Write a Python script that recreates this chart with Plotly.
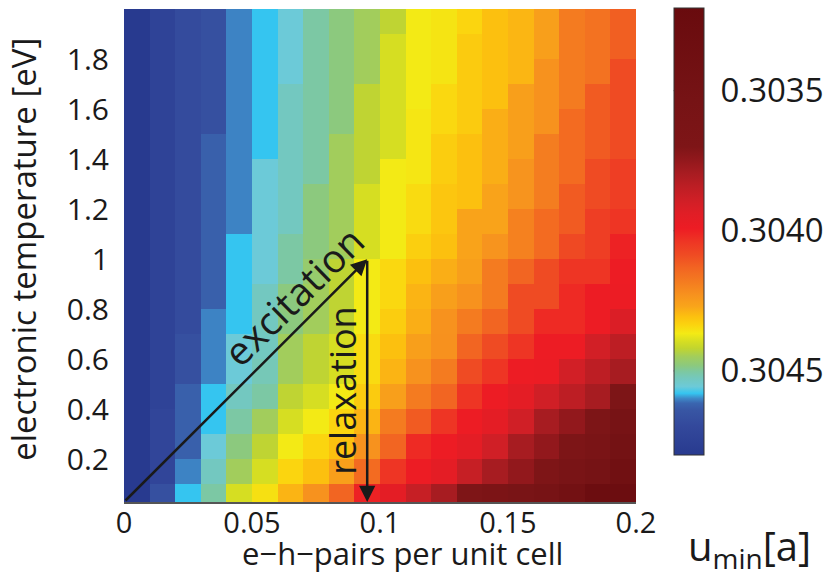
import plotly.graph_objects as go

# ---- data ----
pairs_per_cell = [0.005, 0.015, 0.025, 0.035, 0.045, 0.055, 0.065, 0.075, 0.085, 0.095,
                  0.105, 0.115, 0.125, 0.135, 0.145, 0.155, 0.165, 0.175, 0.185, 0.195]
# electronic temperature rows, listed from the top row (1.95 eV) down to the bottom row (0.05 eV)
temperature_ev = [1.95, 1.85, 1.75, 1.65, 1.55, 1.45, 1.35, 1.25, 1.15, 1.05,
                  0.95, 0.85, 0.75, 0.65, 0.55, 0.45, 0.35, 0.25, 0.15, 0.05]
u_min = [
    [0.304800, 0.304736, 0.304688, 0.304664, 0.304601, 0.304580, 0.304556, 0.304505, 0.304481, 0.304449, 0.304422, 0.304366, 0.304358, 0.304337, 0.304306, 0.304293, 0.304258, 0.304181, 0.304162, 0.304122],
    [0.304800, 0.304736, 0.304688, 0.304664, 0.304601, 0.304580, 0.304556, 0.304505, 0.304481, 0.304449, 0.304395, 0.304366, 0.304358, 0.304322, 0.304306, 0.304293, 0.304258, 0.304181, 0.304162, 0.304122],
    [0.304800, 0.304736, 0.304688, 0.304664, 0.304601, 0.304580, 0.304556, 0.304505, 0.304481, 0.304449, 0.304395, 0.304366, 0.304358, 0.304322, 0.304306, 0.304293, 0.304229, 0.304181, 0.304162, 0.304085],
    [0.304800, 0.304736, 0.304688, 0.304664, 0.304601, 0.304580, 0.304529, 0.304505, 0.304481, 0.304422, 0.304395, 0.304366, 0.304341, 0.304322, 0.304306, 0.304258, 0.304229, 0.304181, 0.304114, 0.304085],
    [0.304800, 0.304736, 0.304688, 0.304664, 0.304601, 0.304580, 0.304529, 0.304505, 0.304481, 0.304422, 0.304395, 0.304360, 0.304341, 0.304322, 0.304282, 0.304258, 0.304229, 0.304146, 0.304114, 0.304085],
    [0.304800, 0.304736, 0.304688, 0.304625, 0.304601, 0.304580, 0.304529, 0.304505, 0.304449, 0.304422, 0.304395, 0.304360, 0.304325, 0.304306, 0.304282, 0.304258, 0.304186, 0.304146, 0.304114, 0.304085],
    [0.304800, 0.304736, 0.304688, 0.304625, 0.304601, 0.304556, 0.304529, 0.304505, 0.304449, 0.304422, 0.304366, 0.304360, 0.304325, 0.304306, 0.304282, 0.304234, 0.304186, 0.304146, 0.304085, 0.304058],
    [0.304800, 0.304736, 0.304688, 0.304625, 0.304601, 0.304556, 0.304529, 0.304481, 0.304449, 0.304395, 0.304366, 0.304345, 0.304314, 0.304306, 0.304266, 0.304234, 0.304186, 0.304114, 0.304085, 0.304058],
    [0.304800, 0.304736, 0.304688, 0.304625, 0.304601, 0.304556, 0.304529, 0.304481, 0.304449, 0.304395, 0.304366, 0.304345, 0.304314, 0.304266, 0.304266, 0.304194, 0.304146, 0.304114, 0.304058, 0.304038],
    [0.304800, 0.304736, 0.304688, 0.304625, 0.304580, 0.304556, 0.304505, 0.304481, 0.304449, 0.304395, 0.304366, 0.304329, 0.304306, 0.304266, 0.304234, 0.304194, 0.304146, 0.304082, 0.304058, 0.304003],
    [0.304800, 0.304736, 0.304688, 0.304625, 0.304580, 0.304556, 0.304505, 0.304465, 0.304422, 0.304366, 0.304341, 0.304306, 0.304282, 0.304258, 0.304181, 0.304133, 0.304085, 0.304038, 0.304038, 0.303991],
    [0.304800, 0.304736, 0.304688, 0.304625, 0.304580, 0.304529, 0.304481, 0.304449, 0.304422, 0.304366, 0.304341, 0.304290, 0.304258, 0.304229, 0.304181, 0.304085, 0.304085, 0.304018, 0.303991, 0.303987],
    [0.304800, 0.304736, 0.304688, 0.304601, 0.304580, 0.304529, 0.304481, 0.304449, 0.304422, 0.304366, 0.304326, 0.304282, 0.304229, 0.304181, 0.304133, 0.304085, 0.304018, 0.304018, 0.303991, 0.303923],
    [0.304800, 0.304736, 0.304664, 0.304601, 0.304556, 0.304529, 0.304449, 0.304422, 0.304395, 0.304345, 0.304306, 0.304258, 0.304226, 0.304133, 0.304085, 0.304038, 0.303991, 0.303991, 0.303899, 0.303843],
    [0.304800, 0.304736, 0.304664, 0.304601, 0.304556, 0.304521, 0.304449, 0.304422, 0.304395, 0.304345, 0.304290, 0.304229, 0.304181, 0.304085, 0.304038, 0.303991, 0.303987, 0.303899, 0.303843, 0.303794],
    [0.304800, 0.304736, 0.304625, 0.304580, 0.304529, 0.304505, 0.304422, 0.304395, 0.304366, 0.304322, 0.304258, 0.304181, 0.304133, 0.304038, 0.303991, 0.303955, 0.303891, 0.303843, 0.303794, 0.303684],
    [0.304800, 0.304720, 0.304625, 0.304580, 0.304505, 0.304449, 0.304395, 0.304366, 0.304337, 0.304290, 0.304181, 0.304114, 0.304038, 0.303991, 0.303955, 0.303891, 0.303794, 0.303747, 0.303684, 0.303556],
    [0.304800, 0.304720, 0.304625, 0.304556, 0.304481, 0.304422, 0.304366, 0.304337, 0.304306, 0.304229, 0.304133, 0.304018, 0.303991, 0.303955, 0.303891, 0.303794, 0.303747, 0.303684, 0.303620, 0.303492],
    [0.304800, 0.304720, 0.304601, 0.304529, 0.304449, 0.304395, 0.304337, 0.304306, 0.304258, 0.304146, 0.304038, 0.303991, 0.303955, 0.303867, 0.303794, 0.303747, 0.303699, 0.303588, 0.303524, 0.303396],
    [0.304800, 0.304664, 0.304580, 0.304505, 0.304395, 0.304353, 0.304290, 0.304229, 0.304133, 0.304003, 0.303955, 0.303867, 0.303794, 0.303699, 0.303652, 0.303604, 0.303556, 0.303444, 0.303285, 0.303285],
]
x_tick_vals = [0, 0.05, 0.1, 0.15, 0.2]
x_tick_text = ["0", "0.05", "0.1", "0.15", "0.2"]
y_tick_vals = [0.2, 0.4, 0.6, 0.8, 1.0, 1.2, 1.4, 1.6, 1.8]
y_tick_text = ["0.2", "0.4", "0.6", "0.8", "1", "1.2", "1.4", "1.6", "1.8"]
cb_tick_vals = [0.3035, 0.3040, 0.3045]
cb_tick_text = ["0.3035", "0.3040", "0.3045"]
u_top, u_bottom = 0.303205, 0.304800   # colour bar limits (top / bottom)

# arrows: excitation (0 -> 0.095 pairs, up to 1 eV), relaxation (back down at 0.095)
exc_start = (0.0, 0.029)
exc_end = (0.095, 1.0)
rel_end = (0.095, 0.029)

# ---- style ----
colorscale = [
    [0.000, "#283a8f"], [0.063, "#33489b"], [0.100, "#3856a4"], [0.116, "#3a66b0"],
    [0.127, "#3e8bc9"], [0.138, "#35c5f0"], [0.153, "#6ccad8"], [0.172, "#74c8bd"],
    [0.187, "#7dc8a0"], [0.200, "#8cc97e"], [0.220, "#a2cd5c"], [0.239, "#c2d52e"],
    [0.254, "#d6de22"], [0.272, "#f3ea15"], [0.291, "#fbd40f"], [0.310, "#fcc00f"],
    [0.332, "#f9a51a"], [0.358, "#f7921e"], [0.388, "#f47b20"], [0.418, "#f26522"],
    [0.448, "#ef4b23"], [0.478, "#ee3524"], [0.507, "#ed1c24"], [0.541, "#e01e26"],
    [0.571, "#cf1f26"], [0.600, "#bd1e24"], [0.631, "#a71c21"], [0.660, "#92181c"],
    [0.690, "#7e1517"], [0.795, "#761315"], [1.000, "#690b0e"],
]
FONT = "Open Sans"
TXT = "#1a1a1a"

W, H = 832, 577
L, R, T, B = 124, 192, 8, 75
pw, ph = W - L - R, H - T - B
CB_LEFT, CB_W, CB_TOP, CB_BOT = 678, 30, 8, 455


def px(xp):
    return (xp - L) / pw


def py(yp):
    return (H - B - yp) / ph


# plotly colour bars always rise upward; the reference has low u at the top,
# so the heat map is drawn with -u and the colour-bar ticks relabelled.
z_neg = [[-v for v in row] for row in u_min]

fig = go.Figure(go.Heatmap(
    x=pairs_per_cell, y=temperature_ev, z=z_neg,
    zmin=-u_bottom, zmax=-u_top,
    colorscale=colorscale,
    customdata=u_min,
    hovertemplate="%{x}, %{y} eV: %{customdata}<extra></extra>",
    colorbar=dict(
        x=px(CB_LEFT), xanchor="left", xpad=0,
        y=1.0, yanchor="top", ypad=0,
        len=(CB_BOT - CB_TOP) / ph, lenmode="fraction",
        thickness=CB_W, outlinecolor="#333", outlinewidth=1,
        tickvals=[-v for v in cb_tick_vals], ticktext=cb_tick_text,
        ticks="outside", ticklen=10, tickcolor="rgba(0,0,0,0)",
        tickfont=dict(family=FONT, size=33, color=TXT),
    ),
))

fig.update_xaxes(
    range=[0, 0.2], tickvals=x_tick_vals, ticktext=x_tick_text,
    ticks="", showgrid=False, zeroline=False,
    showline=True, linecolor="#555", linewidth=2,
    tickfont=dict(family=FONT, size=29, color=TXT),
    ticklabelstandoff=-6,
)
fig.update_yaxes(
    range=[0.029, 2.004], tickvals=y_tick_vals, ticktext=y_tick_text,
    ticks="", showgrid=False, zeroline=False, showline=False,
    tickfont=dict(family=FONT, size=30, color=TXT),
    ticklabelstandoff=14,
)

# small inside tick marks on both edges of the colour bar
shapes = []
for v in cb_tick_vals:
    yp = CB_TOP + (v - u_top) / (u_bottom - u_top) * (CB_BOT - CB_TOP)
    for x0, x1 in ((CB_LEFT, CB_LEFT + 5), (CB_LEFT + CB_W - 5, CB_LEFT + CB_W)):
        shapes.append(dict(type="line", xref="paper", yref="paper",
                           x0=px(x0), x1=px(x1), y0=py(yp), y1=py(yp),
                           line=dict(color="#333", width=1)))

ann = [
    # axis titles
    dict(text="e\u2212h\u2212pairs per unit cell", x=px(405), y=py(553), xref="paper", yref="paper",
         xanchor="center", yanchor="middle",
         showarrow=False, font=dict(family=FONT, size=31, color=TXT)),
    dict(text="electronic temperature [eV]", x=px(22), y=py(249), xref="paper", yref="paper",
         xanchor="center", yanchor="middle",
         textangle=-90, showarrow=False, font=dict(family=FONT, size=33, color=TXT)),
    dict(text="u<sub>min</sub>[a]", x=px(754), y=py(547), xref="paper", yref="paper",
         xanchor="center", yanchor="middle",
         showarrow=False, font=dict(family=FONT, size=40, color=TXT)),
    # arrows
    dict(x=exc_end[0], y=exc_end[1], ax=exc_start[0], ay=exc_start[1],
         xref="x", yref="y", axref="x", ayref="y", text="", showarrow=True,
         arrowhead=2, arrowsize=1.3, arrowwidth=2.5, arrowcolor="#1a1a1a"),
    dict(x=rel_end[0], y=rel_end[1], ax=exc_end[0], ay=exc_end[1],
         xref="x", yref="y", axref="x", ayref="y", text="", showarrow=True,
         arrowhead=2, arrowsize=1.3, arrowwidth=2.5, arrowcolor="#1a1a1a"),
    # arrow labels
    dict(text="excitation", x=0.066, y=0.855, xref="x", yref="y", textangle=-44.6,
         xanchor="center", yanchor="middle",
         showarrow=False, font=dict(family=FONT, size=39, color=TXT)),
    dict(text="relaxation", x=0.0855, y=0.477, xref="x", yref="y", textangle=-90,
         xanchor="center", yanchor="middle",
         showarrow=False, font=dict(family=FONT, size=36, color=TXT)),
]

fig.update_layout(
    width=W, height=H,
    margin=dict(l=L, r=R, t=T, b=B),
    paper_bgcolor="white", plot_bgcolor="white",
    annotations=ann, shapes=shapes,
    showlegend=False,
)

fig.write_html("out.html")
